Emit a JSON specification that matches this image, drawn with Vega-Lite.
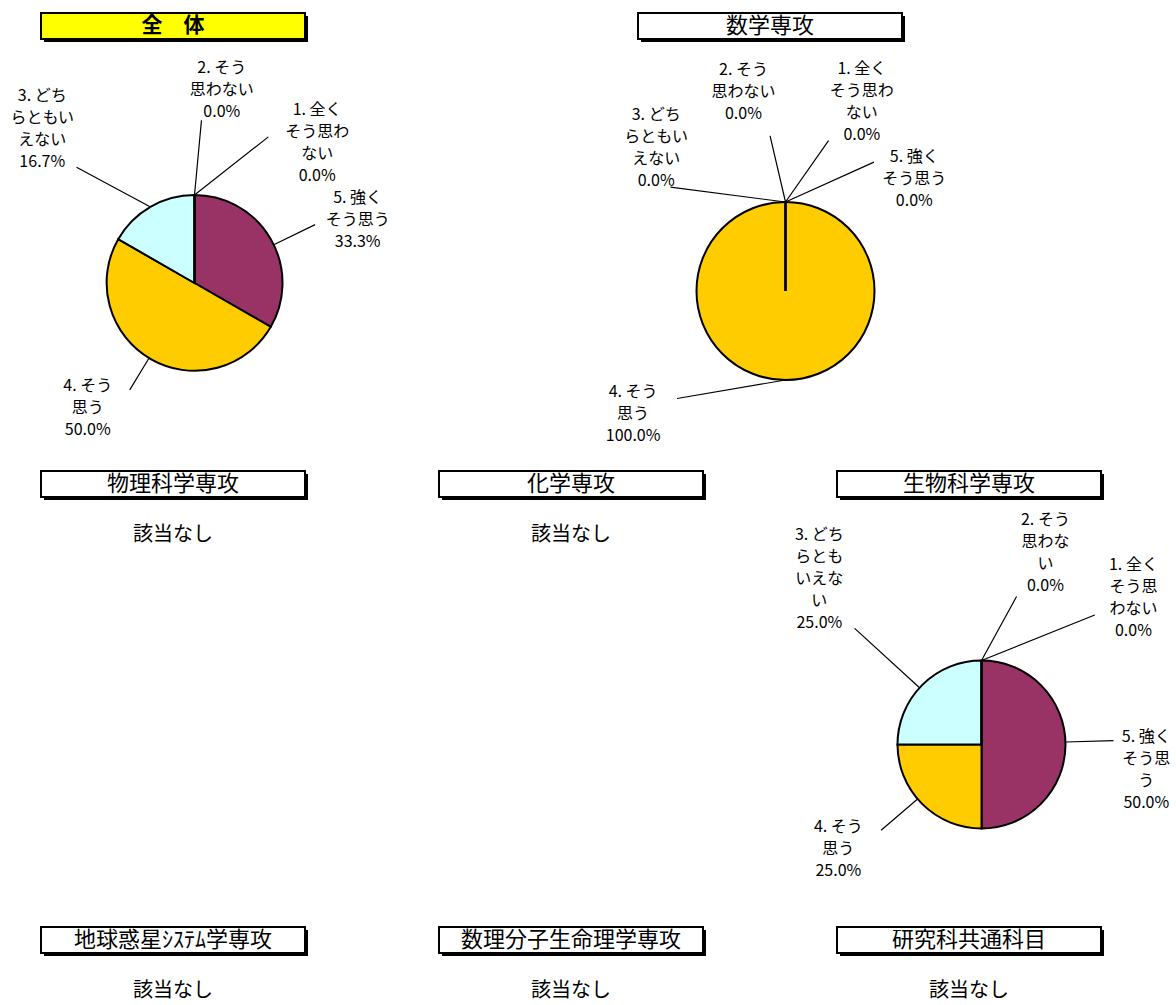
{
  "$schema": "https://vega.github.io/schema/vega-lite/v6.json",
  "background": "white",
  "padding": {"left": 10, "top": 12, "right": 2, "bottom": 2},
  "columns": 3,
  "align": "each",
  "bounds": "flush",
  "spacing": {"row": 11, "column": 91},
  "config": {
    "view": {"stroke": null},
    "font": "Noto Sans CJK JP",
    "text": {"font": "Noto Sans CJK JP", "color": "black"}
  },
  "datasets": {
    "resp": [
      {"panel": "全体", "k": 5, "cat": "5. 強くそう思う", "pct": 33.3, "label": "5. 強く\nそう思う"},
      {"panel": "全体", "k": 4, "cat": "4. そう思う", "pct": 50.0, "label": "4. そう\n思う"},
      {"panel": "全体", "k": 3, "cat": "3. どちらともいえない", "pct": 16.7, "label": "3. どち\nらともい\nえない"},
      {"panel": "全体", "k": 2, "cat": "2. そう思わない", "pct": 0.0, "label": "2. そう\n思わない"},
      {"panel": "全体", "k": 1, "cat": "1. 全くそう思わない", "pct": 0.0, "label": "1. 全く\nそう思わ\nない"},
      {"panel": "数学専攻", "k": 5, "cat": "5. 強くそう思う", "pct": 0.0, "label": "5. 強く\nそう思う"},
      {"panel": "数学専攻", "k": 4, "cat": "4. そう思う", "pct": 100.0, "label": "4. そう\n思う"},
      {"panel": "数学専攻", "k": 3, "cat": "3. どちらともいえない", "pct": 0.0, "label": "3. どち\nらともい\nえない"},
      {"panel": "数学専攻", "k": 2, "cat": "2. そう思わない", "pct": 0.0, "label": "2. そう\n思わない"},
      {"panel": "数学専攻", "k": 1, "cat": "1. 全くそう思わない", "pct": 0.0, "label": "1. 全く\nそう思わ\nない"},
      {"panel": "生物科学専攻", "k": 5, "cat": "5. 強くそう思う", "pct": 50.0, "label": "5. 強く\nそう思\nう"},
      {"panel": "生物科学専攻", "k": 4, "cat": "4. そう思う", "pct": 25.0, "label": "4. そう\n思う"},
      {"panel": "生物科学専攻", "k": 3, "cat": "3. どちらともいえない", "pct": 25.0, "label": "3. どち\nらとも\nいえな\nい"},
      {"panel": "生物科学専攻", "k": 2, "cat": "2. そう思わない", "pct": 0.0, "label": "2. そう\n思わな\nい"},
      {"panel": "生物科学専攻", "k": 1, "cat": "1. 全くそう思わない", "pct": 0.0, "label": "1. 全く\nそう思\nわない"}
    ],
    "panels": [
      {"panel": "全体", "title": "全　体", "note": ""},
      {"panel": "数学専攻", "title": "数学専攻", "note": ""},
      {"panel": "物理科学専攻", "title": "物理科学専攻", "note": "該当なし"},
      {"panel": "化学専攻", "title": "化学専攻", "note": "該当なし"},
      {"panel": "生物科学専攻", "title": "生物科学専攻", "note": ""},
      {"panel": "地球惑星ｼｽﾃﾑ学専攻", "title": "地球惑星ｼｽﾃﾑ学専攻", "note": "該当なし"},
      {"panel": "数理分子生命理学専攻", "title": "数理分子生命理学専攻", "note": "該当なし"},
      {"panel": "研究科共通科目", "title": "研究科共通科目", "note": "該当なし"}
    ]
  },
  "concat": [
    {
      "width": 264, "height": 26,
      "data": {"name": "panels"},
      "transform": [{"filter": "datum.panel === '全体'"}],
      "layer": [
        {"mark": {"type": "rect", "color": "black", "xOffset": 3, "x2Offset": 3, "yOffset": 3, "y2Offset": 3},
         "encoding": {"x": {"datum": 0, "type": "quantitative", "scale": {"domain": [0, 1]}, "axis": null}, "x2": {"datum": 1}, "y": {"datum": 0, "type": "quantitative", "scale": {"domain": [0, 1]}, "axis": null}, "y2": {"datum": 1}}},
        {"mark": {"type": "rect", "fill": "#FFFF00", "stroke": "black", "strokeWidth": 2},
         "encoding": {"x": {"datum": 0, "type": "quantitative", "scale": {"domain": [0, 1]}, "axis": null}, "x2": {"datum": 1}, "y": {"datum": 0, "type": "quantitative", "scale": {"domain": [0, 1]}, "axis": null}, "y2": {"datum": 1}}},
        {"mark": {"type": "text", "fontSize": 21, "fontWeight": "bold", "color": "black"}, "encoding": {"text": {"field": "title"}}}
      ]
    },
    {
      "width": 264, "height": 26,
      "data": {"name": "panels"},
      "transform": [{"filter": "datum.panel === '数学専攻'"}],
      "layer": [
        {"mark": {"type": "rect", "color": "black", "xOffset": 202, "x2Offset": 202, "yOffset": 3, "y2Offset": 3},
         "encoding": {"x": {"datum": 0, "type": "quantitative", "scale": {"domain": [0, 1]}, "axis": null}, "x2": {"datum": 1}, "y": {"datum": 0, "type": "quantitative", "scale": {"domain": [0, 1]}, "axis": null}, "y2": {"datum": 1}}},
        {"mark": {"type": "rect", "fill": "#FFFFFF", "stroke": "black", "strokeWidth": 2, "xOffset": 199, "x2Offset": 199},
         "encoding": {"x": {"datum": 0, "type": "quantitative", "scale": {"domain": [0, 1]}, "axis": null}, "x2": {"datum": 1}, "y": {"datum": 0, "type": "quantitative", "scale": {"domain": [0, 1]}, "axis": null}, "y2": {"datum": 1}}},
        {"mark": {"type": "text", "fontSize": 22, "color": "black", "dx": 199}, "encoding": {"text": {"field": "title"}}}
      ]
    },
    {"width": 1, "height": 98, "data": {"values": []}, "mark": "point"},
    {
      "width": 307, "height": 322,
      "data": {"name": "resp"},
      "transform": [
        {"filter": "datum.panel === '全体'"},
        {"stack": "pct", "groupby": ["panel"], "sort": [{"field": "k", "order": "descending"}], "as": ["s0", "s1"]},
        {"calculate": "(datum.s0 + datum.s1) / 2", "as": "mid"},
        {"calculate": "datum.label + '\\n' + format(datum.pct, '.1f') + '%'", "as": "txt"}
      ],
      "encoding": {"theta": {"field": "mid", "type": "quantitative", "scale": {"domain": [0, 100]}, "stack": null}},
      "layer": [
        {"mark": {"type": "arc", "outerRadius": 88, "stroke": "black", "strokeWidth": 2},
         "encoding": {
           "theta": {"field": "s0", "type": "quantitative", "scale": {"domain": [0, 100]}, "stack": null},
           "theta2": {"field": "s1"},
           "color": {"field": "cat", "type": "nominal", "legend": null,
             "scale": {"domain": ["5. 強くそう思う", "4. そう思う", "3. どちらともいえない", "2. そう思わない", "1. 全くそう思わない"], "range": ["#993366", "#FFCC00", "#CCFFFF", "#FFFFCC", "#99CCFF"]}}
         }},
        {"transform": [{"filter": "datum.k === 5"}], "mark": {"type": "arc", "innerRadius": 88, "outerRadius": 134, "thetaOffset": 0.074, "theta2Offset": 0.074, "filled": false, "color": "black", "strokeWidth": 1.2}, "encoding": {"theta2": {"field": "mid"}}},
        {"transform": [{"filter": "datum.k === 4"}], "mark": {"type": "arc", "innerRadius": 88, "outerRadius": 125, "thetaOffset": 0.023, "theta2Offset": 0.023, "filled": false, "color": "black", "strokeWidth": 1.2}, "encoding": {"theta2": {"field": "mid"}}},
        {"transform": [{"filter": "datum.k === 3"}], "mark": {"type": "arc", "innerRadius": 0, "outerRadius": 84, "thetaOffset": -0.552, "theta2Offset": -0.552, "xOffset": -44, "yOffset": -76, "filled": false, "color": "black", "strokeWidth": 1.2},
         "encoding": {"theta2": {"field": "mid"}, "x": {"datum": 0.5, "type": "quantitative", "scale": {"domain": [0, 1]}, "axis": null}, "y": {"datum": 0.5, "type": "quantitative", "scale": {"domain": [0, 1]}, "axis": null}}},
        {"transform": [{"filter": "datum.k === 2"}], "mark": {"type": "arc", "innerRadius": 0, "outerRadius": 75, "thetaOffset": 0.093, "theta2Offset": 0.093, "yOffset": -88, "filled": false, "color": "black", "strokeWidth": 1.2},
         "encoding": {"theta2": {"field": "mid"}, "x": {"datum": 0.5, "type": "quantitative", "scale": {"domain": [0, 1]}, "axis": null}, "y": {"datum": 0.5, "type": "quantitative", "scale": {"domain": [0, 1]}, "axis": null}}},
        {"transform": [{"filter": "datum.k === 1"}], "mark": {"type": "arc", "innerRadius": 0, "outerRadius": 94, "thetaOffset": 0.904, "theta2Offset": 0.904, "yOffset": -88, "filled": false, "color": "black", "strokeWidth": 1.2},
         "encoding": {"theta2": {"field": "mid"}, "x": {"datum": 0.5, "type": "quantitative", "scale": {"domain": [0, 1]}, "axis": null}, "y": {"datum": 0.5, "type": "quantitative", "scale": {"domain": [0, 1]}, "axis": null}}},
        {"transform": [{"filter": "datum.k === 5"}], "mark": {"type": "text", "radius": 184, "thetaOffset": 0.044, "fontSize": 16, "lineHeight": 22, "lineBreak": "\n", "align": "center", "baseline": "middle", "color": "black"}, "encoding": {"text": {"field": "txt"}}},
        {"transform": [{"filter": "datum.k === 4"}], "mark": {"type": "text", "radius": 148, "thetaOffset": 0.284, "fontSize": 16, "lineHeight": 22, "lineBreak": "\n", "align": "center", "baseline": "middle", "color": "black"}, "encoding": {"text": {"field": "txt"}}},
        {"transform": [{"filter": "datum.k === 3"}], "mark": {"type": "text", "radius": 241, "thetaOffset": -0.159, "fontSize": 16, "lineHeight": 22, "lineBreak": "\n", "align": "center", "baseline": "middle", "color": "black"}, "encoding": {"text": {"field": "txt"}}},
        {"transform": [{"filter": "datum.k === 2"}], "mark": {"type": "text", "radius": 217, "thetaOffset": 0.126, "fontSize": 16, "lineHeight": 22, "lineBreak": "\n", "align": "center", "baseline": "middle", "color": "black"}, "encoding": {"text": {"field": "txt"}}},
        {"transform": [{"filter": "datum.k === 1"}], "mark": {"type": "text", "radius": 212, "thetaOffset": 0.617, "fontSize": 16, "lineHeight": 22, "lineBreak": "\n", "align": "center", "baseline": "middle", "color": "black"}, "encoding": {"text": {"field": "txt"}}}
      ]
    },
    {
      "width": 307, "height": 338,
      "data": {"name": "resp"},
      "transform": [
        {"filter": "datum.panel === '数学専攻'"},
        {"stack": "pct", "groupby": ["panel"], "sort": [{"field": "k", "order": "descending"}], "as": ["s0", "s1"]},
        {"calculate": "(datum.s0 + datum.s1) / 2", "as": "mid"},
        {"calculate": "datum.label + '\\n' + format(datum.pct, '.1f') + '%'", "as": "txt"}
      ],
      "encoding": {
        "theta": {"field": "mid", "type": "quantitative", "scale": {"domain": [0, 100]}, "stack": null},
        "x": {"datum": 0.5, "type": "quantitative", "scale": {"domain": [0, 1]}, "axis": null}
      },
      "layer": [
        {"mark": {"type": "arc", "outerRadius": 89, "stroke": "black", "strokeWidth": 2, "xOffset": 193},
         "encoding": {
           "theta": {"field": "s0", "type": "quantitative", "scale": {"domain": [0, 100]}, "stack": null},
           "theta2": {"field": "s1"},
           "color": {"field": "cat", "type": "nominal", "legend": null,
             "scale": {"domain": ["5. 強くそう思う", "4. そう思う", "3. どちらともいえない", "2. そう思わない", "1. 全くそう思わない"], "range": ["#993366", "#FFCC00", "#CCFFFF", "#FFFFCC", "#99CCFF"]}}
         }},
        {"transform": [{"filter": "datum.k === 5"}], "mark": {"type": "arc", "xOffset": 193, "yOffset": -89, "innerRadius": 0, "outerRadius": 97, "thetaOffset": 1.147, "theta2Offset": 1.147, "filled": false, "color": "black", "strokeWidth": 1.2},
         "encoding": {"theta2": {"field": "mid"}, "y": {"datum": 0.5, "type": "quantitative", "scale": {"domain": [0, 1]}, "axis": null}}},
        {"transform": [{"filter": "datum.k === 4"}], "mark": {"type": "arc", "xOffset": 193, "yOffset": 89, "innerRadius": 0, "outerRadius": 110, "thetaOffset": 1.402, "theta2Offset": 1.402, "filled": false, "color": "black", "strokeWidth": 1.2},
         "encoding": {"theta2": {"field": "mid"}, "y": {"datum": 0.5, "type": "quantitative", "scale": {"domain": [0, 1]}, "axis": null}}},
        {"transform": [{"filter": "datum.k === 3"}], "mark": {"type": "arc", "xOffset": 193, "yOffset": -89, "innerRadius": 0, "outerRadius": 116, "thetaOffset": -1.443, "theta2Offset": -1.443, "filled": false, "color": "black", "strokeWidth": 1.2},
         "encoding": {"theta2": {"field": "mid"}, "y": {"datum": 0.5, "type": "quantitative", "scale": {"domain": [0, 1]}, "axis": null}}},
        {"transform": [{"filter": "datum.k === 2"}], "mark": {"type": "arc", "xOffset": 193, "yOffset": -89, "innerRadius": 0, "outerRadius": 68, "thetaOffset": -0.229, "theta2Offset": -0.229, "filled": false, "color": "black", "strokeWidth": 1.2},
         "encoding": {"theta2": {"field": "mid"}, "y": {"datum": 0.5, "type": "quantitative", "scale": {"domain": [0, 1]}, "axis": null}}},
        {"transform": [{"filter": "datum.k === 1"}], "mark": {"type": "arc", "xOffset": 193, "yOffset": -89, "innerRadius": 0, "outerRadius": 75, "thetaOffset": 0.611, "theta2Offset": 0.611, "filled": false, "color": "black", "strokeWidth": 1.2},
         "encoding": {"theta2": {"field": "mid"}, "y": {"datum": 0.5, "type": "quantitative", "scale": {"domain": [0, 1]}, "axis": null}}},
        {"transform": [{"filter": "datum.k === 5"}], "mark": {"type": "text", "xOffset": 193, "radius": 186, "thetaOffset": 0.765, "fontSize": 16, "lineHeight": 22, "lineBreak": "\n", "align": "center", "baseline": "middle", "color": "black"}, "encoding": {"text": {"field": "txt"}}},
        {"transform": [{"filter": "datum.k === 4"}], "mark": {"type": "text", "xOffset": 193, "radius": 183, "thetaOffset": 0.984, "fontSize": 16, "lineHeight": 22, "lineBreak": "\n", "align": "center", "baseline": "middle", "color": "black"}, "encoding": {"text": {"field": "txt"}}},
        {"transform": [{"filter": "datum.k === 3"}], "mark": {"type": "text", "xOffset": 193, "radius": 218, "thetaOffset": -0.635, "fontSize": 16, "lineHeight": 22, "lineBreak": "\n", "align": "center", "baseline": "middle", "color": "black"}, "encoding": {"text": {"field": "txt"}}},
        {"transform": [{"filter": "datum.k === 2"}], "mark": {"type": "text", "xOffset": 193, "radius": 225, "thetaOffset": -0.188, "fontSize": 16, "lineHeight": 22, "lineBreak": "\n", "align": "center", "baseline": "middle", "color": "black"}, "encoding": {"text": {"field": "txt"}}},
        {"transform": [{"filter": "datum.k === 1"}], "mark": {"type": "text", "xOffset": 193, "radius": 235, "thetaOffset": 0.331, "fontSize": 16, "lineHeight": 22, "lineBreak": "\n", "align": "center", "baseline": "middle", "color": "black"}, "encoding": {"text": {"field": "txt"}}}
      ]
    },
    {"width": 1, "height": 1, "data": {"values": []}, "mark": "point"},
    {
      "width": 264, "height": 26,
      "data": {"name": "panels"},
      "transform": [{"filter": "datum.panel === '物理科学専攻'"}],
      "layer": [
        {"mark": {"type": "rect", "color": "black", "xOffset": 3, "x2Offset": 3, "yOffset": 3, "y2Offset": 3},
         "encoding": {"x": {"datum": 0, "type": "quantitative", "scale": {"domain": [0, 1]}, "axis": null}, "x2": {"datum": 1}, "y": {"datum": 0, "type": "quantitative", "scale": {"domain": [0, 1]}, "axis": null}, "y2": {"datum": 1}}},
        {"mark": {"type": "rect", "fill": "#FFFFFF", "stroke": "black", "strokeWidth": 2},
         "encoding": {"x": {"datum": 0, "type": "quantitative", "scale": {"domain": [0, 1]}, "axis": null}, "x2": {"datum": 1}, "y": {"datum": 0, "type": "quantitative", "scale": {"domain": [0, 1]}, "axis": null}, "y2": {"datum": 1}}},
        {"mark": {"type": "text", "fontSize": 22, "color": "black"}, "encoding": {"text": {"field": "title"}}}
      ]
    },
    {
      "width": 264, "height": 26,
      "data": {"name": "panels"},
      "transform": [{"filter": "datum.panel === '化学専攻'"}],
      "layer": [
        {"mark": {"type": "rect", "color": "black", "xOffset": 3, "x2Offset": 3, "yOffset": 3, "y2Offset": 3},
         "encoding": {"x": {"datum": 0, "type": "quantitative", "scale": {"domain": [0, 1]}, "axis": null}, "x2": {"datum": 1}, "y": {"datum": 0, "type": "quantitative", "scale": {"domain": [0, 1]}, "axis": null}, "y2": {"datum": 1}}},
        {"mark": {"type": "rect", "fill": "#FFFFFF", "stroke": "black", "strokeWidth": 2},
         "encoding": {"x": {"datum": 0, "type": "quantitative", "scale": {"domain": [0, 1]}, "axis": null}, "x2": {"datum": 1}, "y": {"datum": 0, "type": "quantitative", "scale": {"domain": [0, 1]}, "axis": null}, "y2": {"datum": 1}}},
        {"mark": {"type": "text", "fontSize": 22, "color": "black"}, "encoding": {"text": {"field": "title"}}}
      ]
    },
    {
      "width": 264, "height": 26,
      "data": {"name": "panels"},
      "transform": [{"filter": "datum.panel === '生物科学専攻'"}],
      "layer": [
        {"mark": {"type": "rect", "color": "black", "xOffset": 3, "x2Offset": 3, "yOffset": 3, "y2Offset": 3},
         "encoding": {"x": {"datum": 0, "type": "quantitative", "scale": {"domain": [0, 1]}, "axis": null}, "x2": {"datum": 1}, "y": {"datum": 0, "type": "quantitative", "scale": {"domain": [0, 1]}, "axis": null}, "y2": {"datum": 1}}},
        {"mark": {"type": "rect", "fill": "#FFFFFF", "stroke": "black", "strokeWidth": 2},
         "encoding": {"x": {"datum": 0, "type": "quantitative", "scale": {"domain": [0, 1]}, "axis": null}, "x2": {"datum": 1}, "y": {"datum": 0, "type": "quantitative", "scale": {"domain": [0, 1]}, "axis": null}, "y2": {"datum": 1}}},
        {"mark": {"type": "text", "fontSize": 22, "color": "black"}, "encoding": {"text": {"field": "title"}}}
      ]
    },
    {
      "width": 264, "height": 54,
      "data": {"name": "panels"},
      "transform": [{"filter": "datum.panel === '物理科学専攻'"}],
      "mark": {"type": "text", "fontSize": 20, "color": "black"},
      "encoding": {"text": {"field": "note"}}
    },
    {
      "width": 264, "height": 54,
      "data": {"name": "panels"},
      "transform": [{"filter": "datum.panel === '化学専攻'"}],
      "mark": {"type": "text", "fontSize": 20, "color": "black"},
      "encoding": {"text": {"field": "note"}}
    },
    {"width": 1, "height": 1, "data": {"values": []}, "mark": "point"},
    {"width": 1, "height": 1, "data": {"values": []}, "mark": "point"},
    {"width": 1, "height": 1, "data": {"values": []}, "mark": "point"},
    {
      "width": 289, "height": 343,
      "data": {"name": "resp"},
      "transform": [
        {"filter": "datum.panel === '生物科学専攻'"},
        {"stack": "pct", "groupby": ["panel"], "sort": [{"field": "k", "order": "descending"}], "as": ["s0", "s1"]},
        {"calculate": "(datum.s0 + datum.s1) / 2", "as": "mid"},
        {"calculate": "datum.label + '\\n' + format(datum.pct, '.1f') + '%'", "as": "txt"}
      ],
      "encoding": {"theta": {"field": "mid", "type": "quantitative", "scale": {"domain": [0, 100]}, "stack": null}},
      "layer": [
        {"mark": {"type": "arc", "outerRadius": 84, "stroke": "black", "strokeWidth": 2},
         "encoding": {
           "theta": {"field": "s0", "type": "quantitative", "scale": {"domain": [0, 100]}, "stack": null},
           "theta2": {"field": "s1"},
           "color": {"field": "cat", "type": "nominal", "legend": null,
             "scale": {"domain": ["5. 強くそう思う", "4. そう思う", "3. どちらともいえない", "2. そう思わない", "1. 全くそう思わない"], "range": ["#993366", "#FFCC00", "#CCFFFF", "#FFFFCC", "#99CCFF"]}}
         }},
        {"transform": [{"filter": "datum.k === 5"}], "mark": {"type": "arc", "innerRadius": 84, "outerRadius": 132, "thetaOffset": -0.030, "theta2Offset": -0.030, "filled": false, "color": "black", "strokeWidth": 1.2}, "encoding": {"theta2": {"field": "mid"}}},
        {"transform": [{"filter": "datum.k === 4"}], "mark": {"type": "arc", "innerRadius": 84, "outerRadius": 132, "thetaOffset": 0.079, "theta2Offset": 0.079, "filled": false, "color": "black", "strokeWidth": 1.2}, "encoding": {"theta2": {"field": "mid"}}},
        {"transform": [{"filter": "datum.k === 3"}], "mark": {"type": "arc", "innerRadius": 84, "outerRadius": 172, "thetaOffset": -0.044, "theta2Offset": -0.044, "filled": false, "color": "black", "strokeWidth": 1.2}, "encoding": {"theta2": {"field": "mid"}}},
        {"transform": [{"filter": "datum.k === 2"}], "mark": {"type": "arc", "innerRadius": 0, "outerRadius": 73, "thetaOffset": 0.501, "theta2Offset": 0.501, "yOffset": -84, "filled": false, "color": "black", "strokeWidth": 1.2},
         "encoding": {"theta2": {"field": "mid"}, "x": {"datum": 0.5, "type": "quantitative", "scale": {"domain": [0, 1]}, "axis": null}, "y": {"datum": 0.5, "type": "quantitative", "scale": {"domain": [0, 1]}, "axis": null}}},
        {"transform": [{"filter": "datum.k === 1"}], "mark": {"type": "arc", "innerRadius": 0, "outerRadius": 122, "thetaOffset": 1.189, "theta2Offset": 1.189, "yOffset": -84, "filled": false, "color": "black", "strokeWidth": 1.2},
         "encoding": {"theta2": {"field": "mid"}, "x": {"datum": 0.5, "type": "quantitative", "scale": {"domain": [0, 1]}, "axis": null}, "y": {"datum": 0.5, "type": "quantitative", "scale": {"domain": [0, 1]}, "axis": null}}},
        {"transform": [{"filter": "datum.k === 5"}], "mark": {"type": "text", "radius": 165, "thetaOffset": -0.047, "fontSize": 16, "lineHeight": 22, "lineBreak": "\n", "align": "center", "baseline": "middle", "color": "black"}, "encoding": {"text": {"field": "txt"}}},
        {"transform": [{"filter": "datum.k === 4"}], "mark": {"type": "text", "radius": 165, "thetaOffset": 0.265, "fontSize": 16, "lineHeight": 22, "lineBreak": "\n", "align": "center", "baseline": "middle", "color": "black"}, "encoding": {"text": {"field": "txt"}}},
        {"transform": [{"filter": "datum.k === 3"}], "mark": {"type": "text", "radius": 265, "thetaOffset": 0.127, "fontSize": 16, "lineHeight": 22, "lineBreak": "\n", "align": "center", "baseline": "middle", "color": "black"}, "encoding": {"text": {"field": "txt"}}},
        {"transform": [{"filter": "datum.k === 2"}], "mark": {"type": "text", "radius": 233, "thetaOffset": 0.278, "fontSize": 16, "lineHeight": 22, "lineBreak": "\n", "align": "center", "baseline": "middle", "color": "black"}, "encoding": {"text": {"field": "txt"}}},
        {"transform": [{"filter": "datum.k === 1"}], "mark": {"type": "text", "radius": 235, "thetaOffset": 0.703, "fontSize": 16, "lineHeight": 22, "lineBreak": "\n", "align": "center", "baseline": "middle", "color": "black"}, "encoding": {"text": {"field": "txt"}}}
      ]
    },
    {
      "width": 264, "height": 26,
      "data": {"name": "panels"},
      "transform": [{"filter": "datum.panel === '地球惑星ｼｽﾃﾑ学専攻'"}],
      "layer": [
        {"mark": {"type": "rect", "color": "black", "xOffset": 3, "x2Offset": 3, "yOffset": 3, "y2Offset": 3},
         "encoding": {"x": {"datum": 0, "type": "quantitative", "scale": {"domain": [0, 1]}, "axis": null}, "x2": {"datum": 1}, "y": {"datum": 0, "type": "quantitative", "scale": {"domain": [0, 1]}, "axis": null}, "y2": {"datum": 1}}},
        {"mark": {"type": "rect", "fill": "#FFFFFF", "stroke": "black", "strokeWidth": 2},
         "encoding": {"x": {"datum": 0, "type": "quantitative", "scale": {"domain": [0, 1]}, "axis": null}, "x2": {"datum": 1}, "y": {"datum": 0, "type": "quantitative", "scale": {"domain": [0, 1]}, "axis": null}, "y2": {"datum": 1}}},
        {"mark": {"type": "text", "fontSize": 22, "color": "black"}, "encoding": {"text": {"field": "title"}}}
      ]
    },
    {
      "width": 264, "height": 26,
      "data": {"name": "panels"},
      "transform": [{"filter": "datum.panel === '数理分子生命理学専攻'"}],
      "layer": [
        {"mark": {"type": "rect", "color": "black", "xOffset": 3, "x2Offset": 3, "yOffset": 3, "y2Offset": 3},
         "encoding": {"x": {"datum": 0, "type": "quantitative", "scale": {"domain": [0, 1]}, "axis": null}, "x2": {"datum": 1}, "y": {"datum": 0, "type": "quantitative", "scale": {"domain": [0, 1]}, "axis": null}, "y2": {"datum": 1}}},
        {"mark": {"type": "rect", "fill": "#FFFFFF", "stroke": "black", "strokeWidth": 2},
         "encoding": {"x": {"datum": 0, "type": "quantitative", "scale": {"domain": [0, 1]}, "axis": null}, "x2": {"datum": 1}, "y": {"datum": 0, "type": "quantitative", "scale": {"domain": [0, 1]}, "axis": null}, "y2": {"datum": 1}}},
        {"mark": {"type": "text", "fontSize": 22, "color": "black"}, "encoding": {"text": {"field": "title"}}}
      ]
    },
    {
      "width": 264, "height": 26,
      "data": {"name": "panels"},
      "transform": [{"filter": "datum.panel === '研究科共通科目'"}],
      "layer": [
        {"mark": {"type": "rect", "color": "black", "xOffset": 3, "x2Offset": 3, "yOffset": 3, "y2Offset": 3},
         "encoding": {"x": {"datum": 0, "type": "quantitative", "scale": {"domain": [0, 1]}, "axis": null}, "x2": {"datum": 1}, "y": {"datum": 0, "type": "quantitative", "scale": {"domain": [0, 1]}, "axis": null}, "y2": {"datum": 1}}},
        {"mark": {"type": "rect", "fill": "#FFFFFF", "stroke": "black", "strokeWidth": 2},
         "encoding": {"x": {"datum": 0, "type": "quantitative", "scale": {"domain": [0, 1]}, "axis": null}, "x2": {"datum": 1}, "y": {"datum": 0, "type": "quantitative", "scale": {"domain": [0, 1]}, "axis": null}, "y2": {"datum": 1}}},
        {"mark": {"type": "text", "fontSize": 22, "color": "black"}, "encoding": {"text": {"field": "title"}}}
      ]
    },
    {
      "width": 264, "height": 54,
      "data": {"name": "panels"},
      "transform": [{"filter": "datum.panel === '地球惑星ｼｽﾃﾑ学専攻'"}],
      "mark": {"type": "text", "fontSize": 20, "color": "black"},
      "encoding": {"text": {"field": "note"}}
    },
    {
      "width": 264, "height": 54,
      "data": {"name": "panels"},
      "transform": [{"filter": "datum.panel === '数理分子生命理学専攻'"}],
      "mark": {"type": "text", "fontSize": 20, "color": "black"},
      "encoding": {"text": {"field": "note"}}
    },
    {
      "width": 264, "height": 54,
      "data": {"name": "panels"},
      "transform": [{"filter": "datum.panel === '研究科共通科目'"}],
      "mark": {"type": "text", "fontSize": 20, "color": "black"},
      "encoding": {"text": {"field": "note"}}
    }
  ]
}
